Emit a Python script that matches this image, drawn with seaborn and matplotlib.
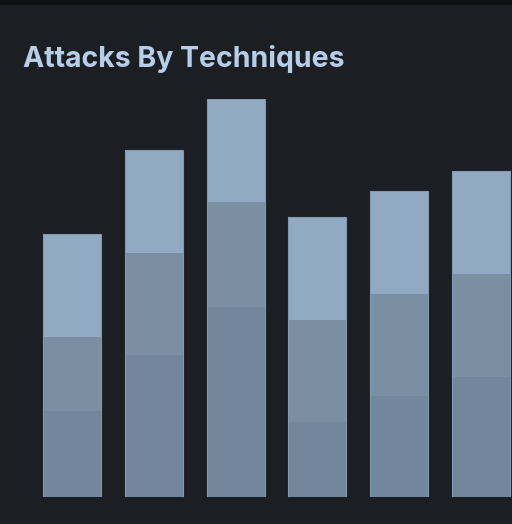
import numpy as np
import pandas as pd
import seaborn as sns
import matplotlib.pyplot as plt
from matplotlib.patches import Rectangle

# technique groups (no labels shown on the chart)
techniques = ["T1", "T2", "T3", "T4", "T5", "T6"]
low = [83, 138, 184, 73, 98, 116]
mid = [72, 99, 102, 99, 99, 100]
high = [100, 100, 100, 100, 100, 100]

df = pd.DataFrame({"technique": techniques, "low": low, "mid": mid, "high": high})
df["low_mid"] = df["low"] + df["mid"]
df["total"] = df["low_mid"] + df["high"]

panel = "#1b1f24"
c_high = "#91a9c2"
c_mid = "#7b8fa3"
c_low = "#72879b"

sns.set_theme(style="dark")
fig = plt.figure(figsize=(5.12, 5.24), dpi=100, facecolor=panel)
# dark strip above the panel
fig.patches.append(Rectangle((0, 1 - 5 / 524), 1, 5 / 524, transform=fig.transFigure,
                             facecolor="#0f1215", edgecolor="none"))

W, H = 512, 524
spacing = 81.8
left_px = 72 - spacing / 2
ax = fig.add_axes([left_px / W, 27 / H, 6 * spacing / W, 398 / H])
ax.set_facecolor(panel)

# stacked bars drawn as cumulative layers
sns.barplot(data=df, x="technique", y="total", color=c_high, saturation=1, width=0.71,
            linewidth=0, ax=ax)
sns.barplot(data=df, x="technique", y="low_mid", color=c_mid, saturation=1, width=0.71,
            linewidth=0, ax=ax)
sns.barplot(data=df, x="technique", y="low", color=c_low, saturation=1, width=0.71,
            linewidth=0, ax=ax)
sns.barplot(data=df, x="technique", y="total", color="#8399af", fill=False, width=0.71,
            linewidth=0.8, ax=ax)

ax.set_xlim(-0.5, 5.5)
ax.set_ylim(0, df["total"].max())
ax.set_xlabel("")
ax.set_ylabel("")
ax.set_xticks([])
ax.set_yticks([])
for s in ax.spines.values():
    s.set_visible(False)

fig.text(23 / W, 1 - 67 / H, "Attacks By Techniques", color="#b6cee7", fontsize=20.5,
         fontweight="bold", family=["Inter", "DejaVu Sans"], va="baseline", ha="left")

fig.savefig("out.png", dpi=100, facecolor=fig.get_facecolor())
